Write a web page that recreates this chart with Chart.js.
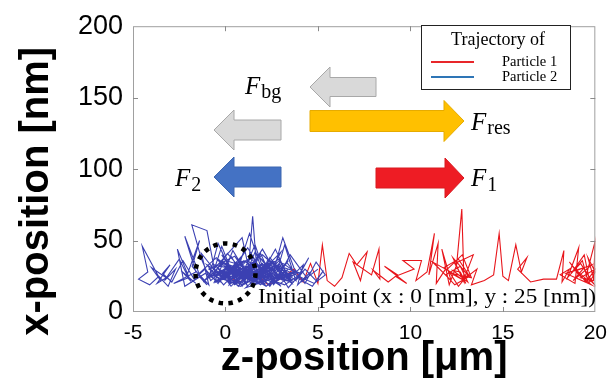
<!DOCTYPE html>
<html><head><meta charset="utf-8">
<script src="https://cdn.jsdelivr.net/npm/chart.js@4.4.1/dist/chart.umd.min.js"></script>
<style>html,body{margin:0;padding:0;background:#fff}#wrap{width:616px;height:387px;position:relative}</style>
</head><body><div id="wrap"><canvas id="c" width="616" height="387"></canvas></div>
<script>
// ---- tick labels ----
const xTicks = [-5, 0, 5, 10, 15, 20];
const yTicks = [0, 50, 100, 150, 200];
const xTitle = 'z-position [μm]';
const yTitle = 'x-position [nm]';
const seriesNames = ['Particle 1', 'Particle 2'];
const legendTitle = 'Trajectory of';
const initialLabel = 'Initial point (x : 0 [nm], y : 25 [nm])';
const forceLabels = [['F', 'bg'], ['F', 'res'], ['F', '2'], ['F', '1']];

// ---- Particle 1 (red): z-position [um], x-position [nm] ----
const particle1Z = [
  0, 0.8, 1.6, 2.3, 3.1, 3.7, 4.2, 4.6, 5.0, 5.24,
  5.5, 5.9, 6.3, 6.69, 7.1, 7.66, 7.3, 6.9, 7.9, 8.3,
  8.35, 8.0, 8.8, 9.3, 8.6, 9.8, 9.2, 10.2, 9.6, 10.6,
  10.3, 10.9, 11.3, 11.0, 11.5, 11.4, 11.9, 11.2, 12.2, 11.7,
  12.1, 12.5, 12.78, 12.9, 12.3, 13.1, 12.6, 12.0, 12.8, 13.3,
  12.2, 12.9, 11.8, 12.6, 13.2, 12.4, 11.9, 12.7, 13.1, 12.3,
  12.7, 13.0, 12.4, 13.4, 12.9, 13.6, 13.3, 14.0, 14.5, 14.8,
  15.0, 15.3, 15.7, 16.0, 16.3, 15.8, 16.5, 17.2, 17.9, 18.3,
  18.2, 18.6, 18.1, 18.9, 19.1, 18.5, 19.3, 19.6, 19.0, 19.8,
  18.8, 19.4, 18.4, 19.8, 19.1, 18.6, 19.5, 20.0, 19.2, 19.9,
  20.0, 19.5, 19.9, 19.2, 18.7, 19.4, 19.7, 20.0, 19.6, 19.9
];
const particle1X = [
  25, 21, 28, 19, 24, 30, 21, 34, 20, 47,
  22, 18, 24, 41, 33, 42, 22, 35, 26, 44,
  23, 29, 21, 26, 32, 20, 25, 30, 36, 36,
  22, 28, 55, 26, 48, 20, 30, 35, 22, 44,
  19, 33, 72, 21, 38, 26, 18, 30, 40, 24,
  27, 22, 31, 37, 25, 19, 26, 32, 21, 29,
  28, 20, 34, 40, 23, 30, 19, 22, 26, 55,
  25, 22, 47, 28, 38, 30, 21, 23, 23, 43,
  21, 30, 26, 20, 45, 24, 36, 22, 29, 33,
  22, 31, 27, 19, 26, 35, 21, 30, 24, 22,
  50, 25, 20, 34, 27, 40, 21, 28, 38, 24
];

// ---- Particle 2 (blue) ----
const particle2Z = [
  0, 0.4, -0.3, 0.8, 0.2, 1.1, -0.6, 0.5, 1.6, 0.9,
  -0.2, 0.7, 1.9, 1.2, 0.3, 2.2, 1.5, 0.1, -0.9, -0.4,
  0.6, 2.5, 1.8, 3.0, 2.1, 1.3, 0.0, -1.2, -0.7, 0.9,
  1.4, 2.7, 3.4, 2.4, 1.7, 1.47, 1.2, 2.9, 3.8, 3.2,
  2.6, 2.0, 0.8, -0.5, -1.5, -1.0, -1.8, -1.4, -2.1, -1.6,
  -2.4, -1.9, -2.6, -2.2, -1.1, -0.3, 0.4, 1.0, 1.8, 2.3,
  3.6, 4.2, 3.9, 4.6, 4.1, 5.0, 4.4, 3.5, 2.8, 3.3,
  4.8, 5.4, 4.9, 4.3, 3.7, 3.1, 2.5, 1.9, 1.1, 0.2,
  -0.8, -1.3, -1.82, -1.0, -0.6, -0.2, 0.5, 1.3, 2.0, 2.7,
  3.5, 2.9, 2.2, 1.6, 0.9, 0.3, -0.4, -1.1, -1.7, -2.3,
  -2.9, -3.4, -3.0, -3.7, -3.2, -4.0, -3.5, -4.5, -4.2, -4.7,
  -4.1, -3.6, -3.1, -2.7, -3.3, -2.5, -2.0, -2.8, -1.6, -2.2,
  -1.4, -0.9, -1.3, -0.5, 0.1, 0.6, 1.2, 0.7, 1.5, 2.1,
  2.6, 3.1, 2.4, 1.9, 2.8, 3.4, 4.0, 4.5, 3.8, 4.3,
  4.9, 5.3, 4.7, 4.0, 3.3, 2.7, 2.0, 1.4, 0.8, 0.1,
  -0.5, 0.3, 1.0, 1.7, 2.3, 1.6, 0.9, 0.2, -0.6, -0.1,
  0.6, 1.4, 2.2, 3.0, 3.6, 2.9, 2.1, 1.3, 0.5, 0.0,
  0.7, 1.8, 0.4, 2.6, 1.1, 3.2, 2.0, 0.2, 1.5, 2.9,
  3.7, 2.4, 1.0, -0.3, 0.9, 2.2, 3.5, 2.7, 1.3, 0.5,
  -0.9, 0.3, 1.7, 3.0, 2.1, 0.8, -0.4, 1.2, 2.5, 3.9,
  3.1, 1.9, 0.6, -0.7, 0.1, 1.4, 2.8, 2.0, 0.7, -0.2,
  1.0, 2.3, 3.6, 2.9, 1.6, 0.4, -1.0, -0.1, 1.3, 2.6,
  3.4, 2.2, 0.9, -0.5, 0.6, 1.9, 3.2, 4.1, 2.7, 1.5,
  0.2, -0.8, 0.5, 1.8, 3.0, 2.3, 1.1, -0.2, 0.8, 2.1,
  3.3, 2.5, 1.2, 0.0, 1.6, 2.9, 3.8, 2.4, 1.0, 0.0
];
const particle2X = [
  25, 31, 22, 38, 19, 28, 33, 21, 35, 18,
  40, 24, 30, 45, 27, 21, 38, 30, 24, 48,
  20, 33, 26, 42, 19, 31, 36, 21, 29, 52,
  22, 27, 36, 18, 29, 67, 24, 31, 22, 47,
  20, 34, 25, 38, 26, 19, 32, 50, 25, 20,
  29, 22, 44, 18, 27, 21, 43, 30, 20, 37,
  25, 33, 19, 28, 21, 30, 24, 40, 23, 29,
  20, 26, 35, 20, 31, 52, 24, 41, 20, 33,
  22, 37, 61, 57, 30, 46, 23, 55, 28, 44,
  21, 34, 24, 47, 26, 39, 20, 30, 23, 36,
  21, 27, 33, 20, 24, 31, 22, 46, 28, 23,
  19, 25, 18, 30, 22, 37, 24, 20, 28, 53,
  26, 19, 41, 28, 22, 35, 18, 29, 23, 32,
  19, 27, 38, 21, 30, 17, 26, 38, 22, 30,
  22, 29, 18, 23, 35, 21, 29, 19, 37, 24,
  32, 18, 27, 22, 31, 42, 20, 28, 21, 35,
  26, 33, 18, 28, 22, 36, 25, 30, 19, 25,
  32, 20, 27, 35, 17, 26, 40, 22, 30, 19,
  28, 23, 36, 26, 19, 29, 21, 33, 24, 39,
  30, 20, 34, 18, 27, 23, 36, 28, 21, 27,
  34, 19, 30, 25, 41, 22, 26, 44, 18, 29,
  24, 31, 20, 37, 27, 22, 33, 19, 38, 24,
  30, 18, 28, 21, 34, 25, 19, 27, 33, 21,
  31, 26, 20, 39, 23, 29, 36, 24, 18, 27,
  22, 35, 26, 32, 20, 24, 29, 19, 31, 25
];
const initialPoint = [0, 27];

const toXY = (zs, xs) => zs.map((z, i) => ({x: z, y: xs[i]}));

function arrow(ctx, tail, tip, yc, sh, hh, hl, fill, stroke) {
  const d = Math.sign(tip - tail), base = tip - d * hl;
  ctx.beginPath();
  ctx.moveTo(tail, yc - sh / 2); ctx.lineTo(base, yc - sh / 2); ctx.lineTo(base, yc - hh / 2);
  ctx.lineTo(tip, yc); ctx.lineTo(base, yc + hh / 2); ctx.lineTo(base, yc + sh / 2);
  ctx.lineTo(tail, yc + sh / 2); ctx.closePath();
  ctx.fillStyle = fill; ctx.fill();
  ctx.strokeStyle = stroke; ctx.lineWidth = 1; ctx.stroke();
}
function mathLabel(ctx, lbl, x, base, shift) {
  ctx.fillStyle = '#000'; ctx.textAlign = 'left'; ctx.textBaseline = 'alphabetic';
  ctx.font = 'italic 25px "Liberation Serif"';
  ctx.fillText(lbl[0], x, base);
  const w = ctx.measureText(lbl[0]).width;
  ctx.font = '20px "Liberation Serif"';
  ctx.fillText(lbl[1], x + w + 1, base + shift);
}

const decor = {
  id: 'decor',
  afterDatasetsDraw(chart) {
    const {ctx, chartArea: a, scales: {x, y}} = chart;
    ctx.save();
    // box
    ctx.strokeStyle = '#a0a0a0'; ctx.lineWidth = 1;
    ctx.strokeRect(a.left + 0.5, a.top + 0.5, a.right - a.left - 1, a.bottom - a.top - 1);
    ctx.strokeStyle = '#8a8a8a';
    ctx.beginPath();
    xTicks.slice(1, -1).forEach(v => {
      const p = Math.round(x.getPixelForValue(v)) + 0.5;
      ctx.moveTo(p, a.bottom); ctx.lineTo(p, a.bottom - 5);
      ctx.moveTo(p, a.top); ctx.lineTo(p, a.top + 5);
    });
    yTicks.slice(1, -1).forEach(v => {
      const p = Math.round(y.getPixelForValue(v)) + 0.5;
      ctx.moveTo(a.left, p); ctx.lineTo(a.left + 5, p);
      ctx.moveTo(a.right, p); ctx.lineTo(a.right - 5, p);
    });
    ctx.stroke();

    // arrows
    arrow(ctx, 376, 310, 87, 19, 40, 20, '#d9d9d9', '#a8a8a8');
    arrow(ctx, 281, 214, 130, 20, 40, 20, '#d9d9d9', '#a8a8a8');
    arrow(ctx, 310, 464, 121, 21, 41, 20, '#ffc000', '#e6ab00');
    arrow(ctx, 281, 214, 177, 20, 40, 20, '#4472c4', '#3d66b0');
    arrow(ctx, 376, 464, 178, 20, 40, 19, '#ee1c24', '#d81a21');

    mathLabel(ctx, forceLabels[0], 245, 94, 4);
    mathLabel(ctx, forceLabels[1], 471, 130, 4);
    mathLabel(ctx, forceLabels[2], 175, 186, 5);
    mathLabel(ctx, forceLabels[3], 471, 186, 5);

    // dotted circle around the initial point
    const cx = x.getPixelForValue(initialPoint[0]), cy = y.getPixelForValue(initialPoint[1]);
    ctx.beginPath(); ctx.setLineDash([4.5, 5.4]); ctx.lineWidth = 4.5; ctx.strokeStyle = '#000';
    ctx.arc(cx, cy, 30, 0, Math.PI * 2); ctx.stroke(); ctx.setLineDash([]);

    // initial point label
    ctx.font = '20px "Liberation Serif"'; ctx.fillStyle = '#000';
    ctx.textAlign = 'left'; ctx.textBaseline = 'alphabetic';
    const tw = ctx.measureText(initialLabel).width;
    ctx.save(); ctx.translate(258, 303); ctx.scale(338 / tw, 1); ctx.fillText(initialLabel, 0, 0); ctx.restore();

    // legend
    ctx.fillStyle = '#fff'; ctx.fillRect(421, 25, 149, 64);
    ctx.strokeStyle = '#222'; ctx.lineWidth = 1; ctx.strokeRect(421.5, 25.5, 149, 64);
    ctx.fillStyle = '#000'; ctx.textAlign = 'center'; ctx.textBaseline = 'middle';
    ctx.font = '18px "Liberation Serif"';
    ctx.fillText(legendTitle, 498, 40);
    const legCols = ['#e8262a', '#2e75b6'];
    [62, 77].forEach((ly, i) => {
      ctx.strokeStyle = legCols[i]; ctx.lineWidth = 2.2;
      ctx.beginPath(); ctx.moveTo(431, ly); ctx.lineTo(474, ly); ctx.stroke();
      ctx.fillStyle = '#000'; ctx.textAlign = 'left'; ctx.font = '14.5px "Liberation Serif"';
      ctx.fillText(seriesNames[i], 502, ly);
    });
    ctx.restore();
  }
};

new Chart(document.getElementById('c'), {
  type: 'line',
  data: {
    datasets: [
      {label: seriesNames[0], data: toXY(particle1Z, particle1X), borderColor: '#e8151b', borderWidth: 1.1,
       pointRadius: 0, tension: 0, fill: false, order: 1},
      {label: seriesNames[1], data: toXY(particle2Z, particle2X), borderColor: '#3b40b2', borderWidth: 1.1,
       pointRadius: 0, tension: 0, fill: false, order: 0}
    ]
  },
  options: {
    responsive: false, animation: false, devicePixelRatio: 1,
    layout: {padding: {top: 20, right: 19, left: 0, bottom: 0}},
    plugins: {legend: {display: false}, tooltip: {enabled: false}},
    scales: {
      x: {
        type: 'linear', min: -5, max: 20,
        afterBuildTicks: s => { s.ticks = xTicks.map(v => ({value: v})); },
        afterFit: s => { s.height = 75; },
        grid: {display: false, drawTicks: false}, border: {display: false},
        ticks: {font: {family: 'Liberation Sans', size: 21}, color: '#000', padding: 9, maxRotation: 0, autoSkip: false},
        title: {display: true, text: xTitle, color: '#000', font: {family: 'Liberation Sans', size: 40, weight: 'bold'},
                padding: {top: 0, bottom: 4}}
      },
      y: {
        type: 'linear', min: 0, max: 200,
        afterBuildTicks: s => { s.ticks = yTicks.map(v => ({value: v})); },
        afterFit: s => { s.width = 133; },
        grid: {display: false, drawTicks: false}, border: {display: false},
        ticks: {font: {family: 'Liberation Sans', size: 27}, color: '#000', padding: 10, autoSkip: false},
        title: {display: true, text: yTitle + '    ', color: '#000', font: {family: 'Liberation Sans', size: 40, weight: 'bold'},
                padding: {top: 13, bottom: 0}}
      }
    }
  },
  plugins: [decor]
});
</script>
</body></html>
